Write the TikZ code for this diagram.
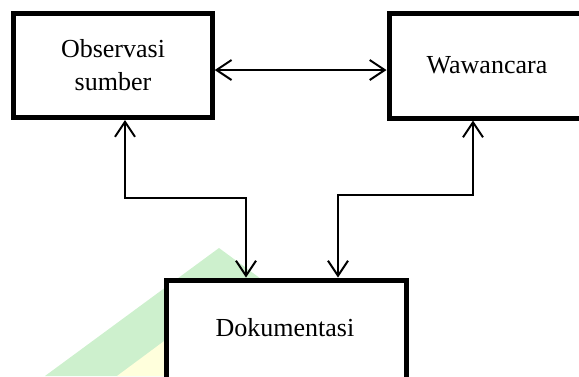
\documentclass[tikz,border=0pt]{standalone}
\usepackage{fontspec}
\setmainfont{Liberation Serif}
\usetikzlibrary{arrows.meta}
\definecolor{wmgreen}{HTML}{CDF0CD}
\definecolor{wmyellow}{HTML}{FFFFDC}
\begin{document}
\begin{tikzpicture}[x=1pt,y=-1pt,
  box/.style={draw=black,line width=5pt,fill=white,rectangle,inner sep=0pt,outer sep=auto},
  txt/.style={font=\fontsize{26}{33}\selectfont,inner sep=0pt,anchor=base},
  conn/.style={line width=2pt,{Straight Barb[length=15pt,width=20pt]}-{Straight Barb[length=15pt,width=20pt]}}]
\useasboundingbox (0,0) rectangle (579,376);
\clip (0,0) rectangle (579,376);
% watermark
\fill[wmgreen] (45,376) -- (219,248) -- (295,304) -- (295,376) -- cycle;
\fill[wmyellow] (117,376) -- (175,333) -- (175,376) -- cycle;
% boxes
\node[box,minimum width=198.5pt,minimum height=104pt,align=center,font=\fontsize{26}{33}\selectfont] (o) at (113,65.5) {Observasi\\sumber};
\node[box,minimum width=230pt,minimum height=105pt] (w) at (504,65.5) {};
\node[txt] (wt) at (487,73) {Wawancara};
\node[box,minimum width=240pt,minimum height=150pt] (d) at (286,355) {};
\node[txt] (dt) at (285,336) {Dokumentasi};
% connectors
\draw[conn] (o.east |- 0,70) -- (w.west |- 0,70);
\draw[conn] (o.south -| 125,0) |- (246,198) -- (d.north -| 246,0);
\draw[conn] (w.south -| 473,0) |- (338,195) -- (d.north -| 338,0);
\end{tikzpicture}
\end{document}
